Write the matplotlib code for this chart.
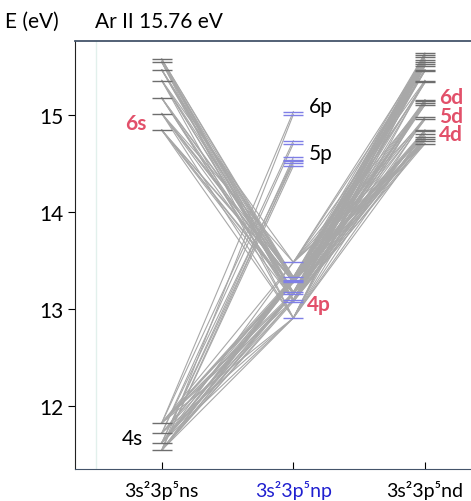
import matplotlib.pyplot as plt

plt.rcParams['font.family'] = ['Lato', 'DejaVu Sans']

# level energies (eV)
ns_levels = [11.548, 11.624, 11.723, 11.828,
             14.84, 15.01, 15.17, 15.35, 15.46, 15.54, 15.57]
np_levels = [12.907, 13.076, 13.095, 13.153, 13.172, 13.273, 13.283, 13.302, 13.328, 13.480,
             14.47, 14.50, 14.52, 14.53, 14.56, 14.70, 14.73,
             15.00, 15.03]
nd_levels = [15.63, 15.61, 15.59, 15.56, 15.54, 15.52, 15.50, 15.46, 15.45,
             15.35, 15.33, 15.15, 15.14, 15.12, 15.10, 14.97, 14.95,
             14.84, 14.83, 14.80, 14.77, 14.75, 14.73, 14.70]

# transitions: ns index -> np indices
s_to_p = {
    0: [0, 1, 2, 3, 4, 6, 7, 8, 10, 12, 17],
    1: [0, 2, 3, 4, 5, 6, 7, 8, 9, 11, 14],
    2: [0, 3, 6, 8, 13, 15],
    3: [0, 2, 3, 4, 5, 6, 7, 8, 9, 16, 18],
    4: [0, 2, 3, 4, 6, 7],
    5: [0, 3, 5, 6, 8, 9],
    6: [1, 2, 4, 7, 8],
    7: [0, 3, 4, 6, 9],
    8: [2, 3, 5, 7, 8],
    9: [0, 1, 4, 6],
    10: [2, 3, 7, 8],
}
# transitions: nd index -> np indices
d_to_p = {
    0: [0, 4, 8], 1: [1, 3, 6], 2: [2, 5, 9], 3: [0, 3, 7],
    4: [1, 4, 8], 5: [2, 6, 9], 6: [0, 3, 5], 7: [1, 4, 7],
    8: [2, 6, 8], 9: [0, 3, 9], 10: [1, 5, 7], 11: [2, 4, 8],
    12: [0, 3, 6], 13: [1, 4, 9], 14: [2, 5, 7], 15: [0, 3, 8],
    16: [1, 6, 9], 17: [2, 4, 7], 18: [0, 3, 5], 19: [1, 6, 8],
    20: [2, 4, 9], 21: [0, 3, 7], 22: [1, 5, 8], 23: [2, 6, 9],
}

col_x = [1, 2, 3]
col_labels = ['3s\u00b23p\u2075ns', '3s\u00b23p\u2075np', '3s\u00b23p\u2075nd']
ion_limit = 15.76

fig = plt.figure(figsize=(4.71, 5.02), dpi=100)
ax = fig.add_axes([0.159, 0.063, 0.841, 0.854])

line_kw = dict(color='#a8a8a8', lw=0.8, zorder=1)
for i, targets in s_to_p.items():
    for j in targets:
        ax.plot([col_x[0], col_x[1]], [ns_levels[i], np_levels[j]], **line_kw)
for i, targets in d_to_p.items():
    for j in targets:
        ax.plot([col_x[2], col_x[1]], [nd_levels[i], np_levels[j]], **line_kw)

hw = 0.075
ax.hlines(ns_levels, col_x[0] - hw, col_x[0] + hw, color='#6e6e6e', lw=1.0, zorder=2)
ax.hlines(np_levels, col_x[1] - hw, col_x[1] + hw, color='#7f7fe6', lw=1.0, zorder=2)
ax.hlines(nd_levels, col_x[2] - hw, col_x[2] + hw, color='#6e6e6e', lw=1.0, zorder=2)

ax.axvline(0.5, color='#e2f0ec', lw=1.0, zorder=0)

pink = '#e2506a'
fs = 15
ax.text(0.885, 14.91, '6s', color=pink, fontsize=fs, fontweight='bold', ha='right', va='center')
ax.text(0.855, 11.67, '4s', color='black', fontsize=fs, ha='right', va='center')
ax.text(2.12, 15.09, '6p', color='black', fontsize=fs, ha='left', va='center')
ax.text(2.12, 14.60, '5p', color='black', fontsize=fs, ha='left', va='center')
ax.text(2.10, 13.05, '4p', color=pink, fontsize=fs, fontweight='bold', ha='left', va='center')
ax.text(3.105, 15.18, '6d', color=pink, fontsize=fs, fontweight='bold', ha='left', va='center')
ax.text(3.105, 14.99, '5d', color=pink, fontsize=fs, fontweight='bold', ha='left', va='center')
ax.text(3.105, 14.80, '4d', color=pink, fontsize=fs, fontweight='bold', ha='left', va='center')

ax.set_xlim(0.34, 3.35)
ax.set_ylim(11.35, ion_limit)
ax.set_yticks([12, 13, 14, 15])
ax.set_xticks(col_x)
ax.set_xticklabels(col_labels, fontsize=14)
ax.get_xticklabels()[1].set_color('#1f1fd0')
ax.tick_params(axis='y', labelsize=fs, length=5, direction='out')
ax.tick_params(axis='x', length=5, direction='in', pad=8)

ax.spines['right'].set_visible(False)
ax.spines['top'].set_color('#44546a')
ax.spines['top'].set_linewidth(1.3)
ax.spines['bottom'].set_color('#44546a')
ax.spines['left'].set_color('#222222')

fig.text(5 / 471, 1 - 22 / 502, 'E (eV)', fontsize=fs, va='center', ha='left')
fig.text(95 / 471, 1 - 22 / 502, 'Ar II 15.76 eV', fontsize=fs, va='center', ha='left')

fig.savefig('out.png', dpi=100)
